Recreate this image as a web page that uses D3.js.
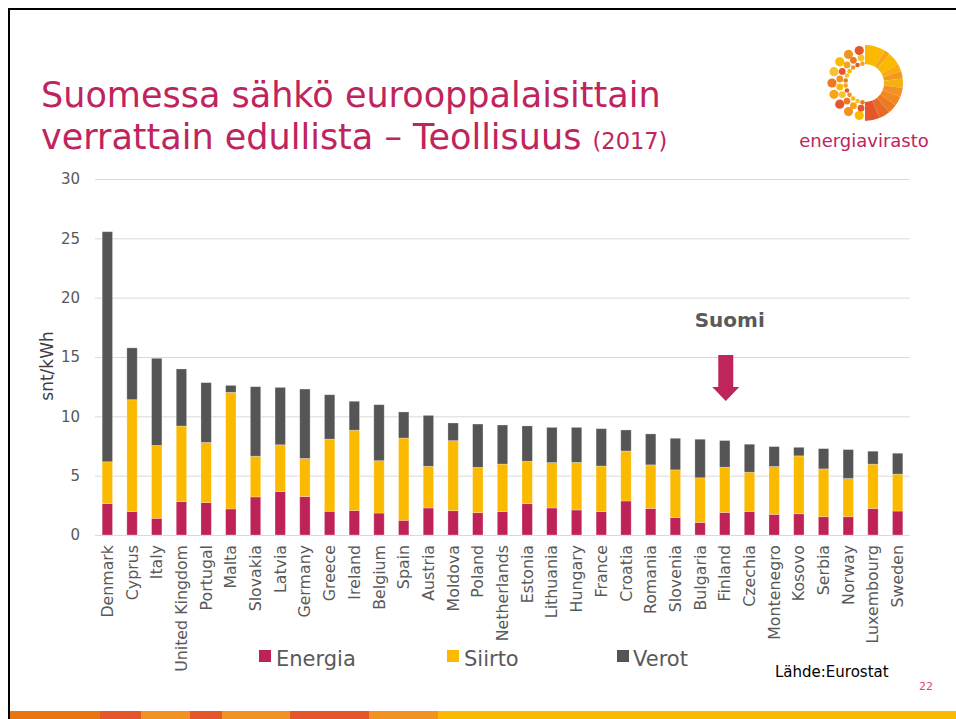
<!DOCTYPE html>
<html>
<head>
<meta charset="utf-8">
<script src="https://cdn.jsdelivr.net/npm/d3@7"></script>
<style>
  body { margin: 0; background: #fff; }
  svg { display: block; font-family: "DejaVu Sans", Verdana, sans-serif; }
</style>
</head>
<body>
<svg id="svg1" width="956" height="719"></svg>
<script>
// chart data (snt/kWh, 2017)
var countries = ["Denmark", "Cyprus", "Italy", "United Kingdom", "Portugal", "Malta", "Slovakia", "Latvia",
  "Germany", "Greece", "Ireland", "Belgium", "Spain", "Austria", "Moldova", "Poland", "Netherlands",
  "Estonia", "Lithuania", "Hungary", "France", "Croatia", "Romania", "Slovenia", "Bulgaria", "Finland",
  "Czechia", "Montenegro", "Kosovo", "Serbia", "Norway", "Luxembourg", "Sweden"];
var energia = [2.65, 1.97, 1.41, 2.82, 2.73, 2.20, 3.21, 3.66, 3.24, 2.00, 2.07, 1.85, 1.24, 2.28, 2.05, 1.88, 1.97,
  2.64, 2.28, 2.11, 1.97, 2.87, 2.24, 1.48, 1.06, 1.90, 1.99, 1.74, 1.79, 1.54, 1.54, 2.24, 2.02];
var siirto = [3.52, 9.43, 6.14, 6.36, 5.07, 9.82, 3.43, 3.94, 3.21, 6.08, 6.76, 4.41, 6.93, 3.51, 5.90, 3.82, 4.01,
  3.57, 3.82, 4.01, 3.84, 4.21, 3.67, 4.01, 3.76, 3.81, 3.30, 4.03, 4.88, 4.03, 3.22, 3.73, 3.11];
var verot = [19.39, 4.37, 7.34, 4.81, 5.04, 0.59, 5.86, 4.84, 5.85, 3.74, 2.44, 4.72, 2.20, 4.29, 1.49, 3.65, 3.29,
  2.98, 2.97, 2.95, 3.15, 1.77, 2.61, 2.66, 3.25, 2.25, 2.36, 1.68, 0.72, 1.71, 2.44, 1.09, 1.76];
var yTicks = [0, 5, 10, 15, 20, 25, 30];
var seriesNames = ["Energia", "Siirto", "Verot"];
var seriesColors = ["#be2257", "#fbb900", "#555555"];
var highlight = "Finland";

// layout
var plotLeft = 95, plotRight = 910, plotTop = 179, plotBottom = 535;
var crimson = "#c0245c";
var textGray = "#595959";

var svg = d3.select("#svg1");

// slide frame
svg.append("path")
  .attr("d", "M9,719V9H956")
  .attr("fill", "none")
  .attr("stroke", "#000")
  .attr("stroke-width", 2);

// bottom stripe
var stripe = [[10, 100, "#e8760f"], [100, 141, "#e5572a"], [141, 190, "#f29222"], [190, 222, "#e5572a"],
  [222, 290, "#f29222"], [290, 369, "#e5572a"], [369, 438, "#f29222"], [438, 956, "#fbb900"]];
svg.selectAll(".stripe")
  .data(stripe)
  .enter().append("rect")
    .attr("class", "stripe")
    .attr("x", function(d) { return d[0]; })
    .attr("y", 711)
    .attr("width", function(d) { return d[1] - d[0]; })
    .attr("height", 8)
    .attr("fill", function(d) { return d[2]; });

// title
var title = svg.append("text")
  .attr("fill", crimson)
  .style("font-size", "35px");
title.append("tspan").attr("x", 41).attr("y", 107).text("Suomessa sähkö eurooppalaisittain");
title.append("tspan").attr("x", 41).attr("y", 149).text("verrattain edullista – Teollisuus ");
title.append("tspan").style("font-size", "22.5px").text("(2017)");

// logo
var logo = svg.append("g").attr("transform", "translate(865,83)");
var ringSegs = [[0, 0.55, "#fbb900"], [0.55, 0.7, "#f7a41c"], [0.7, 1.05, "#fbb900"], [1.05, 1.25, "#f9ad12"],
  [1.25, 1.45, "#f39a1e"], [1.45, 1.7, "#f7b014"], [1.7, 1.95, "#f29222"], [1.95, 2.2, "#f08a20"],
  [2.2, 2.45, "#ec7a22"], [2.45, 2.75, "#e96a26"], [2.75, Math.PI, "#e5572a"]];
var ringArc = d3.arc().innerRadius(19).outerRadius(38);
logo.selectAll(".seg")
  .data(ringSegs)
  .enter().append("path")
    .attr("class", "seg")
    .attr("d", function(d) { return ringArc({startAngle: d[0], endAngle: d[1]}); })
    .attr("fill", function(d) { return d[2]; });
var dotRings = [[33, 4.6, 9], [25.5, 3.4, 10], [19.5, 2.3, 12]];
var dotColors = ["#fbb900", "#f29222", "#e5572a", "#f7a41c", "#ec7a22", "#fbc02d"];
dotRings.forEach(function(ring, ri) {
  var n = ring[2];
  for (var k = 0; k < n; k++) {
    var a = Math.PI + (k + 0.5) * Math.PI / n;
    logo.append("circle")
      .attr("cx", ring[0] * Math.sin(a))
      .attr("cy", -ring[0] * Math.cos(a))
      .attr("r", ring[1])
      .attr("fill", dotColors[(k + ri * 2) % dotColors.length]);
  }
});
svg.append("text")
  .attr("x", 864).attr("y", 147)
  .attr("text-anchor", "middle")
  .attr("fill", crimson)
  .style("font-size", "18px")
  .text("energiavirasto");

// scales
var xScale = d3.scaleBand()
  .domain(countries)
  .range([plotLeft, plotRight])
  .paddingInner(0.58)
  .paddingOuter(0.29);
var yScale = d3.scaleLinear()
  .domain([0, 30])
  .range([plotBottom, plotTop]);

// gridlines
svg.append("g")
  .selectAll("line")
  .data(yTicks)
  .enter().append("line")
    .attr("x1", plotLeft)
    .attr("x2", plotRight)
    .attr("y1", function(d) { return yScale(d) + 0.5; })
    .attr("y2", function(d) { return yScale(d) + 0.5; })
    .attr("stroke", "#d9d9d9")
    .attr("stroke-width", 1);

// y axis labels
var y_axis = d3.axisLeft(yScale).tickValues(yTicks).tickSize(0).tickPadding(0);
var yAxisG = svg.append("g")
  .attr("transform", "translate(80,0)")
  .call(y_axis);
yAxisG.select(".domain").remove();
yAxisG.selectAll("text")
  .attr("fill", textGray)
  .style("font-family", "DejaVu Sans, sans-serif")
  .style("font-size", "15px");

svg.append("text")
  .attr("transform", "translate(53,366) rotate(-90)")
  .attr("text-anchor", "middle")
  .attr("fill", "#404040")
  .style("font-size", "17px")
  .text("snt/kWh");

// stacked bars
var rows = countries.map(function(c, i) {
  return {country: c, Energia: energia[i], Siirto: siirto[i], Verot: verot[i]};
});
var stack = d3.stack().keys(seriesNames)(rows);
var layers = svg.append("g")
  .selectAll("g")
  .data(stack)
  .enter().append("g")
    .attr("fill", function(d, i) { return seriesColors[i]; });
layers.selectAll("rect")
  .data(function(d) { return d; })
  .enter().append("rect")
    .attr("x", function(d) { return xScale(d.data.country); })
    .attr("y", function(d) { return yScale(d[1]); })
    .attr("width", xScale.bandwidth())
    .attr("height", function(d) { return yScale(d[0]) - yScale(d[1]); })
    .attr("stroke", "#ffffff")
    .attr("stroke-opacity", 0.35)
    .attr("stroke-width", 0.8);

// x axis labels
var x_axis = d3.axisBottom(xScale).tickSize(0).tickPadding(0);
var xAxisG = svg.append("g")
  .attr("transform", "translate(0," + plotBottom + ")")
  .call(x_axis);
xAxisG.select(".domain").remove();
xAxisG.selectAll("text")
  .attr("transform", "rotate(-90)")
  .attr("x", -10)
  .attr("y", 0)
  .attr("dy", "0.35em")
  .attr("text-anchor", "end")
  .attr("fill", textGray)
  .style("font-family", "DejaVu Sans, sans-serif")
  .style("font-size", "15.8px");

// Suomi marker
var hx = xScale(highlight) + xScale.bandwidth() / 2 + 1;
svg.append("text")
  .attr("x", hx + 4).attr("y", 327)
  .attr("text-anchor", "middle")
  .attr("fill", textGray)
  .style("font-size", "20px")
  .style("font-weight", "bold")
  .text("Suomi");
svg.append("path")
  .attr("d", "M" + (hx - 7.5) + ",355H" + (hx + 7.5) + "V387H" + (hx + 13.5) + "L" + hx + ",401L" +
    (hx - 13.5) + ",387H" + (hx - 7.5) + "Z")
  .attr("fill", crimson);

// legend
var legendX = [259, 447, 617];
var legend = svg.append("g")
  .selectAll("g")
  .data(seriesNames)
  .enter().append("g")
    .attr("transform", function(d, i) { return "translate(" + legendX[i] + ",650)"; });
legend.append("rect")
  .attr("width", 12).attr("height", 12)
  .attr("fill", function(d, i) { return seriesColors[i]; });
legend.append("text")
  .attr("x", function(d, i) { return i === 2 ? 16 : 17; })
  .attr("y", 16)
  .attr("fill", textGray)
  .style("font-size", "21px")
  .text(function(d) { return d; });

// source and page number
svg.append("text")
  .attr("x", 775).attr("y", 677)
  .attr("fill", "#000")
  .style("font-size", "15px")
  .text("Lähde:Eurostat");
svg.append("text")
  .attr("x", 919).attr("y", 690)
  .attr("fill", "#e0457b")
  .style("font-size", "11px")
  .text("22");
</script>
</body>
</html>
